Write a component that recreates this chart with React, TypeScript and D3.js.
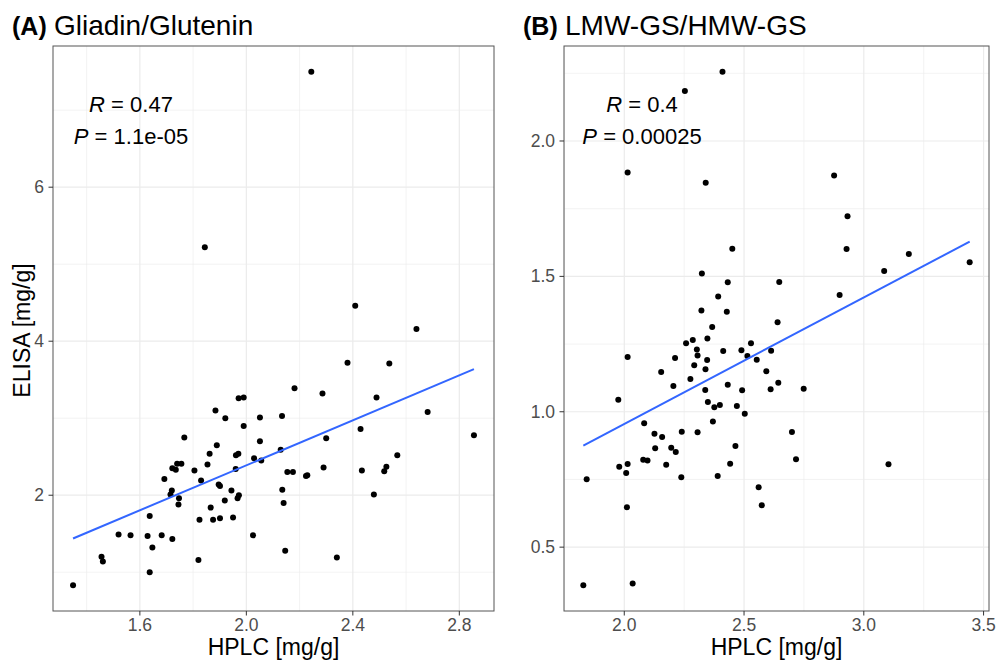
import React from "react";
import * as d3 from "d3";

// Panel A: Gliadin/Glutenin ratio, HPLC vs ELISA
const gliadinHplc = [
  1.349, 1.456, 1.461, 1.52, 1.565, 1.629, 1.637, 1.647, 1.637, 1.682,
  1.722, 1.692, 1.715, 1.72, 1.722, 1.735, 1.74, 1.756, 1.747, 1.745,
  1.767, 1.805, 1.82, 1.824, 1.83, 1.866, 1.875, 1.854, 1.862, 1.884,
  1.889, 1.896, 1.901, 1.901, 1.919, 1.921, 1.944, 1.95, 1.96, 1.961,
  1.967, 1.972, 1.97, 1.971, 1.99, 1.99, 2.025, 2.029, 2.051, 2.051,
  2.056, 2.129, 2.134, 2.135, 2.14, 2.146, 2.154, 2.175, 2.181, 2.224,
  2.229, 2.286, 2.29, 2.3, 2.34, 2.38, 2.409, 2.429, 2.434, 2.479,
  2.489, 2.518, 2.526, 2.537, 2.567, 2.639, 2.681, 2.855, 2.244, 1.844,
];
const gliadinElisa = [
  0.83, 1.2, 1.14, 1.49, 1.48, 1.47, 1.0, 1.32, 1.73, 1.48,
  1.43, 2.21, 2.01, 2.06, 2.35, 2.33, 2.41, 2.41, 1.96, 1.88,
  2.75, 2.32, 1.16, 1.68, 2.19, 1.84, 1.68, 2.4, 2.54, 3.1,
  2.65, 2.14, 2.12, 1.7, 1.93, 3.0, 2.06, 1.71, 2.34, 2.52,
  1.96, 2.0, 2.54, 3.26, 3.27, 2.9, 1.48, 2.48, 3.01, 2.7,
  2.45, 2.59, 3.03, 2.07, 1.9, 1.28, 2.3, 2.3, 3.39, 2.25,
  2.26, 3.32, 2.36, 2.74, 1.19, 3.72, 4.46, 2.86, 2.32, 2.01,
  3.27, 2.31, 2.37, 3.71, 2.52, 4.16, 3.08, 2.78, 7.5, 5.22,
];

// Panel B: LMW-GS/HMW-GS ratio, HPLC vs ELISA
const lmwHplc = [
  1.829, 2.035, 1.843, 1.975, 2.014, 2.011, 1.979, 2.014, 2.008, 2.083,
  2.079, 2.097, 2.126, 2.129, 2.158, 2.154, 2.175, 2.196, 2.215, 2.205,
  2.212, 2.238, 2.24, 2.258, 2.276, 2.286, 2.292, 2.303, 2.306, 2.306,
  2.324, 2.322, 2.339, 2.346, 2.338, 2.347, 2.349, 2.367, 2.37, 2.376,
  2.392, 2.39, 2.399, 2.413, 2.428, 2.432, 2.432, 2.442, 2.451, 2.464,
  2.47, 2.489, 2.492, 2.503, 2.514, 2.529, 2.553, 2.561, 2.574, 2.593,
  2.611, 2.613, 2.643, 2.64, 2.647, 2.876, 2.932, 2.928, 2.899, 2.749,
  2.7, 2.717, 3.085, 3.188, 3.103, 3.442, 2.014, 2.253, 2.41, 2.34,
];
const lmwElisa = [
  0.359, 0.366, 0.751, 1.044, 1.202, 0.647, 0.797, 0.807, 0.774, 0.958,
  0.823, 0.82, 0.919, 0.865, 0.907, 1.147, 0.804, 0.867, 0.851, 1.095,
  1.199, 0.758, 0.926, 1.253, 1.121, 1.265, 1.172, 1.23, 1.208, 0.924,
  1.511, 1.374, 1.157, 1.191, 1.08, 1.271, 1.036, 1.313, 0.964, 1.017,
  1.426, 0.763, 1.025, 1.224, 1.369, 1.478, 1.1, 0.808, 1.602, 0.874,
  1.021, 1.227, 1.079, 0.993, 1.206, 1.253, 1.192, 0.721, 0.655, 1.15,
  1.083, 1.225, 1.107, 1.331, 1.479, 1.873, 1.722, 1.601, 1.431, 1.085,
  0.925, 0.825, 1.52, 1.583, 0.806, 1.552, 1.884, 2.185, 2.256, 1.846,
];

const gliadinTicksX = [1.6, 2.0, 2.4, 2.8];
const gliadinTicksY = [2, 4, 6];
const lmwTicksX = [2.0, 2.5, 3.0, 3.5];
const lmwTicksY = [0.5, 1.0, 1.5, 2.0];

// linear fits [slope, intercept]
const gliadinFit = [1.46, -0.5315];
const lmwFit = [0.467, 0.021];

const FONT = "'Liberation Sans', Arial, Helvetica, sans-serif";
const W = 997;
const H = 661;
const TOP = 46;
const BOTTOM = 611;

function expand(vals: number[]): [number, number] {
  const [lo, hi] = d3.extent(vals) as [number, number];
  const r = hi - lo;
  return [lo - 0.05 * r, hi + 0.05 * r];
}

function minorTicks(major: number[], domain: [number, number]) {
  const step = major[1] - major[0];
  const out: number[] = [];
  for (let i = -1; i < major.length; i++) {
    const v = major[0] + (i + 0.5) * step;
    if (v > domain[0] && v < domain[1]) out.push(v);
  }
  return out;
}

function Panel({ left, right, xs, ys, xTicks, yTicks, xFmt, yFmt, fit, tag, title, r, p, yTitle }: any) {
  const xDom = expand(xs);
  const yDom = expand(ys);
  const x = d3.scaleLinear().domain(xDom).range([left, right]);
  const y = d3.scaleLinear().domain(yDom).range([BOTTOM, TOP]);
  const xMinor = minorTicks(xTicks, xDom);
  const yMinor = minorTicks(yTicks, yDom);
  const [x0, x1] = d3.extent(xs) as [number, number];
  const line = d3.line<number>().x((d) => x(d)).y((d) => y(fit[0] * d + fit[1]));
  const cx = left + 78;
  const grey = "#4D4D4D";

  return (
    <g fontFamily={FONT}>
      <text x={left - 41} y={35} fontSize={25} fontWeight="bold" fill="#000">{tag}</text>
      <text x={left + 1} y={35} fontSize={28} fill="#000">{title}</text>

      {/* grid */}
      {xMinor.map((v) => (
        <line key={"xm" + v} x1={x(v)} x2={x(v)} y1={TOP} y2={BOTTOM} stroke="#EBEBEB" strokeWidth={0.6} />
      ))}
      {yMinor.map((v) => (
        <line key={"ym" + v} x1={left} x2={right} y1={y(v)} y2={y(v)} stroke="#EBEBEB" strokeWidth={0.6} />
      ))}
      {xTicks.map((v: number) => (
        <line key={"xg" + v} x1={x(v)} x2={x(v)} y1={TOP} y2={BOTTOM} stroke="#EBEBEB" strokeWidth={1.2} />
      ))}
      {yTicks.map((v: number) => (
        <line key={"yg" + v} x1={left} x2={right} y1={y(v)} y2={y(v)} stroke="#EBEBEB" strokeWidth={1.2} />
      ))}

      {/* points */}
      {xs.map((v: number, i: number) => (
        <circle key={i} cx={x(v)} cy={y(ys[i])} r={3} fill="#000" />
      ))}

      <path d={line([x0, x1]) || ""} stroke="#3366FF" strokeWidth={2} fill="none" />

      <rect x={left} y={TOP} width={right - left} height={BOTTOM - TOP} fill="none" stroke="#555" strokeWidth={1} />

      {/* axes */}
      {xTicks.map((v: number) => (
        <g key={"xt" + v}>
          <line x1={x(v)} x2={x(v)} y1={BOTTOM} y2={BOTTOM + 4.5} stroke="#333" strokeWidth={1} />
          <text x={x(v)} y={631} fontSize={17.5} fill={grey} textAnchor="middle">{xFmt(v)}</text>
        </g>
      ))}
      {yTicks.map((v: number) => (
        <g key={"yt" + v}>
          <line x1={left - 4.5} x2={left} y1={y(v)} y2={y(v)} stroke="#333" strokeWidth={1} />
          <text x={left - 9} y={y(v) + 6} fontSize={17.5} fill={grey} textAnchor="end">{yFmt(v)}</text>
        </g>
      ))}
      <text x={(left + right) / 2} y={655} fontSize={23} fill="#000" textAnchor="middle">HPLC [mg/g]</text>
      {yTitle && (
        <text transform={`translate(30,${(TOP + BOTTOM) / 2 + 2}) rotate(-90)`} fontSize={23} fill="#000" textAnchor="middle">
          {yTitle}
        </text>
      )}

      {/* correlation label */}
      <text x={cx} y={112} fontSize={22} fill="#000" textAnchor="middle">
        <tspan fontStyle="italic">R</tspan> = {r}
      </text>
      <text x={cx} y={144} fontSize={22} fill="#000" textAnchor="middle">
        <tspan fontStyle="italic">P</tspan> = {p}
      </text>
    </g>
  );
}

export default function App() {
  return (
    <svg width={W} height={H} style={{ position: "absolute", left: 0, top: 0, background: "#fff" }}>
      <rect width={W} height={H} fill="#fff" />
      <Panel
        left={53}
        right={494}
        xs={gliadinHplc}
        ys={gliadinElisa}
        xTicks={gliadinTicksX}
        yTicks={gliadinTicksY}
        xFmt={d3.format(".1f")}
        yFmt={d3.format("d")}
        fit={gliadinFit}
        tag="(A)"
        title="Gliadin/Glutenin"
        r="0.47"
        p="1.1e-05"
        yTitle="ELISA [mg/g]"
      />
      <Panel
        left={564}
        right={989}
        xs={lmwHplc}
        ys={lmwElisa}
        xTicks={lmwTicksX}
        yTicks={lmwTicksY}
        xFmt={d3.format(".1f")}
        yFmt={d3.format(".1f")}
        fit={lmwFit}
        tag="(B)"
        title="LMW-GS/HMW-GS"
        r="0.4"
        p="0.00025"
      />
    </svg>
  );
}
